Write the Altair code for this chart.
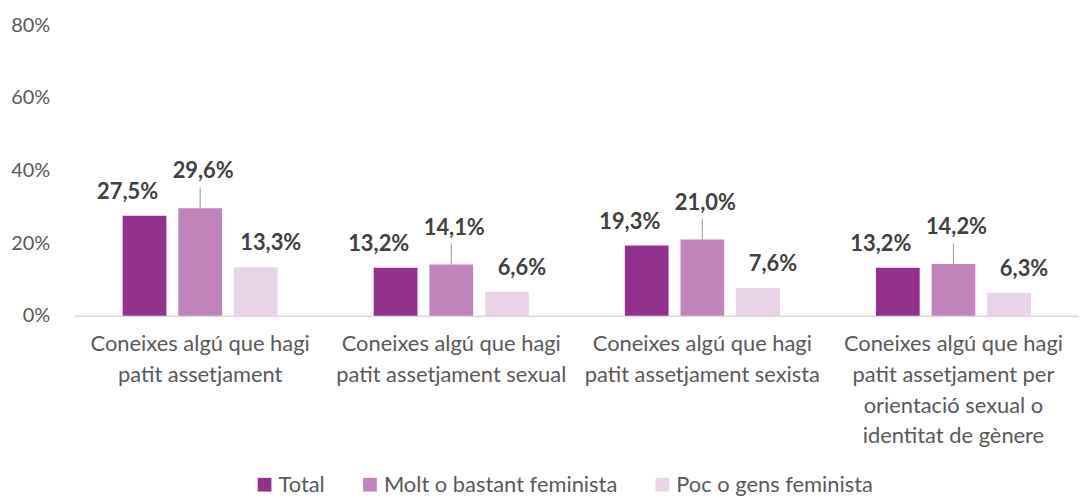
import altair as alt
import pandas as pd

categories = [
    "Coneixes algú que hagi|patit assetjament",
    "Coneixes algú que hagi|patit assetjament sexual",
    "Coneixes algú que hagi|patit assetjament sexista",
    "Coneixes algú que hagi|patit assetjament per|orientació sexual o|identitat de gènere",
]
series = ["Total", "Molt o bastant feminista", "Poc o gens feminista"]
total = [27.5, 13.2, 19.3, 13.2]
molt = [29.6, 14.1, 21.0, 14.2]
poc = [13.3, 6.6, 7.6, 6.3]
colors = ["#93328e", "#c084bb", "#e8d3e7"]
y_ticks = [0, 20, 40, 60, 80]

rows = []
for s, vals in zip(series, [total, molt, poc]):
    for c, v in zip(categories, vals):
        rows.append({"cat": c, "serie": s, "value": v,
                     "label": f"{v:.1f}".replace(".", ",") + "%"})
df = pd.DataFrame(rows)

FONT = "Lato"

x = alt.X("cat:N", sort=categories, title=None,
          scale=alt.Scale(paddingInner=0.335, paddingOuter=0.1675),
          axis=alt.Axis(labelExpr="split(datum.label, '|')", labelAngle=0,
                        labelFontSize=22, labelColor="#595959", labelFont=FONT,
                        labelLineHeight=31, labelPadding=18, ticks=False,
                        domainColor="#d9d9d9", domainWidth=1.5, labelLimit=400))
xo = alt.XOffset("serie:N", sort=series,
                 scale=alt.Scale(paddingInner=0.214, paddingOuter=0.107))
y = alt.Y("value:Q", title=None,
          scale=alt.Scale(domain=[0, 80]),
          axis=alt.Axis(values=y_ticks, labelExpr="datum.value + '%'", grid=False,
                        domain=False, ticks=False, labelFontSize=20,
                        labelColor="#595959", labelFont=FONT, labelPadding=25))
color = alt.Color("serie:N", sort=series, title=None,
                  scale=alt.Scale(domain=series, range=colors),
                  legend=alt.Legend(orient="none", legendX=180, legendY=451,
                                    direction="horizontal", symbolType="square",
                                    symbolSize=190, symbolStrokeWidth=0,
                                    labelFontSize=22, labelFont=FONT,
                                    labelColor="#595959", columnPadding=34,
                                    labelOffset=3, labelLimit=400))

base = alt.Chart(df)
bars = base.mark_bar().encode(x=x, xOffset=xo, y=y, color=color)

def labels(s, dx, dy):
    return base.transform_filter(alt.datum.serie == s).mark_text(
        font=FONT, fontSize=22, fontWeight="bold", color="#404040",
        baseline="middle", dx=dx, dy=dy
    ).encode(x=x, xOffset=xo, y=y, text="label:N")

leader = base.transform_filter(alt.datum.serie == series[1]).mark_rule(
    color="#a6a6a6", strokeWidth=1.2, y2Offset=-21
).encode(x=x, xOffset=xo, y=y, y2=alt.Y2("value:Q"))

chart = alt.layer(
    bars, leader,
    labels(series[0], -17, -24),
    labels(series[1], 3, -37),
    labels(series[2], 15, -24),
).properties(
    width=1010, height=292,
    autosize=alt.AutoSizeParams(type="none"),
    padding={"left": 67, "top": 16, "right": 0, "bottom": 182},
).configure(font=FONT).configure_view(stroke=None)

chart.save("out.html", embed_options={"renderer": "svg", "actions": False})
